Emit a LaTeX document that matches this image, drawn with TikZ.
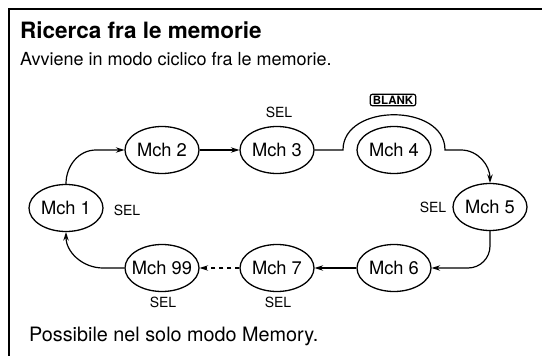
\documentclass[tikz,border=0pt]{standalone}
\usepackage{fontspec}
\setmainfont{TeX Gyre Heros}
\usetikzlibrary{arrows.meta,shapes.geometric}
\newcommand\zc[1]{\makebox[0pt]{#1}}
\begin{document}
\begin{tikzpicture}[x=1pt,y=1pt,
  mch/.style={draw,ellipse,line width=1.3pt,minimum width=74pt,minimum height=47pt,inner sep=0pt,font=\fontsize{18.3}{18.3}\selectfont},
  sel/.style={inner sep=0pt,font=\fontsize{14}{14}\selectfont},
  txt/.style={inner sep=0pt,anchor=base west,font=\fontsize{18}{18}\selectfont},
  conn/.style={line width=1.2pt,-{Stealth[length=8.5pt,width=5.5pt]}},
  keycap/.style={draw,line width=1.2pt,rounded corners=2pt,inner xsep=2.5pt,inner ysep=1.5pt,font=\fontsize{11.5}{11.5}\selectfont\bfseries}
]
\useasboundingbox (0,0) rectangle (542,-356);
\draw[line width=1.4pt] (9,-356) -- (9,-9) -- (542,-9);
\node[txt,font=\fontsize{22.5}{22.5}\selectfont\bfseries] (title) at (20,-38) {Ricerca fra le memorie};
\node[txt] (sub) at (20,-66) {Avviene in modo ciclico fra le memorie.};
\node[txt,font=\fontsize{19.8}{19.8}\selectfont] (foot) at (29,-341) {Possibile nel solo modo Memory.};

\node[mch] (m1) at (66,-208) {\zc{Mch 1}};
\node[mch] (m2) at (162,-150) {\zc{Mch 2}};
\node[mch] (m3) at (277,-150) {\zc{Mch 3}};
\node[mch] (m4) at (394,-150) {\zc{Mch 4}};
\node[mch] (m5) at (490,-207) {\zc{Mch 5}};
\node[mch] (m6) at (394,-268) {\zc{Mch 6}};
\node[mch] (m7) at (277,-268) {\zc{Mch 7}};
\node[mch] (m99) at (162,-268) {\zc{Mch 99}};

\node[sel] (s3) at (279,-112) {SEL};
\node[sel] (s1) at (127,-210) {SEL};
\node[sel] (s5) at (433,-207) {SEL};
\node[sel] (s99) at (163,-302) {SEL};
\node[sel] (s7) at (278,-302) {SEL};
\node[keycap] (blank) at (393,-100) {BLANK};

\draw[conn] (m1.north) to[out=90,in=180] (96,-150) -- (m2.west);
\draw[conn] (m2) -- (m3);
\draw[conn] (m3.east) -- (343,-150) .. controls (343,-103) and (445,-103) .. (445,-150) -- (461,-150) to[out=0,in=90] (m5.north);
\draw[conn] (m5.south) -- (490,-246) to[out=-90,in=0] (468,-268) -- (m6.east);
\draw[conn] (m6) -- (m7);
\draw[conn,dash pattern=on 4.5pt off 3.5pt] (m7) -- (m99);
\draw[conn] (m99.west) -- (103,-268) to[out=180,in=-90] (m1.south);
\end{tikzpicture}
\end{document}
